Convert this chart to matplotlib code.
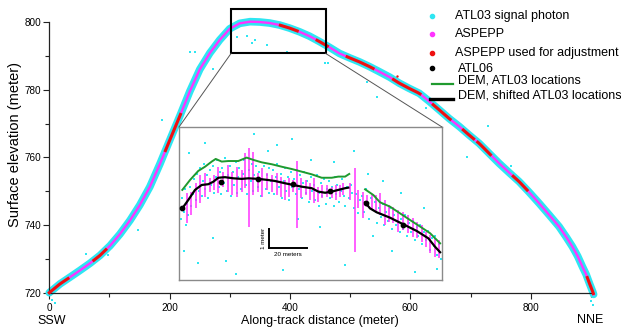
import numpy as np
import matplotlib
matplotlib.use('Agg')
import matplotlib.pyplot as plt
from matplotlib.lines import Line2D
from matplotlib.patches import Rectangle, ConnectionPatch

plt.rcParams['font.family'] = ['Liberation Sans', 'DejaVu Sans']

# ---- 主图：沿轨剖面 (m) ----
prof_x = [0, 17.8, 34.5, 51.0, 67.7, 84.1, 101.0, 117.3, 134.2, 150.4, 167.1, 183.7, 200.2,
          216.9, 233.5, 250.1, 266.7, 283.2, 299.8, 316.4, 333.8, 349.6, 366.0, 382.7, 399.3,
          415.9, 432.5, 449.1, 465.8, 482.3, 499.1, 515.5, 532.3, 548.6, 565.6, 581.8, 597.8,
          615.0, 631.1, 648.2, 664.3, 681.4, 697.6, 714.5, 730.8, 747.7, 764.1, 780.9, 797.4,
          814.1, 830.6, 847.3, 858.8, 869.3, 878.0, 885.9, 892.1, 897.5, 903.0, 904.5]
prof_y = [720.0, 722.6, 724.6, 726.6, 728.7, 731.0, 733.9, 737.3, 741.4, 745.9, 751.3, 758.0,
          765.1, 772.2, 779.5, 786.0, 790.8, 794.7, 798.0, 799.6, 800.1, 800.0, 799.7, 799.1,
          798.2, 797.1, 795.8, 794.2, 792.5, 790.7, 789.4, 788.2, 786.8, 785.3, 783.7, 781.9,
          780.4, 778.9, 776.6, 774.0, 771.5, 769.1, 766.6, 764.1, 761.2, 758.2, 755.5, 752.8,
          749.7, 746.4, 743.0, 739.5, 736.5, 733.6, 730.8, 727.7, 725.4, 722.8, 720.3, 719.5]

# 用于平差的 ASPEPP 区段 (x 范围)
red_ranges = [(0, 31), (74, 94), (193, 218), (384, 412), (445, 462), (495, 538), (572, 616),
              (638, 666), (688, 705), (712, 733), (771, 794), (894, 904)]

# 离群光子
out_x = [336.4, 341.8, 361, 394.2, 327.7, 311.4, 457.7, 462.8, 544, 527.3, 729.4, 693.4, 233.5,
         147.9, 242, 186.6, 272.3, 4, 9, 901, 904, 61.7, 97, 626, 767]
out_y = [793.7, 794.7, 793.2, 791.2, 795.9, 795.7, 788.0, 788.0, 777.9, 782.4, 769.3, 760.2,
         791.2, 738.5, 791.2, 771.0, 786.0, 717.8, 717.0, 717.5, 716.5, 731.5, 731.2, 774.5, 757.5]
red_out_x = [577.3]
red_out_y = [784.0]

# ---- 放大图 (局部坐标, m) ----
blk1_x = [1.75, 4.93, 8.49, 12.04, 15.54, 18.2, 20.85, 24.4, 28.8, 33.3, 36.8, 42.1, 47.4, 50.9,
          56.2, 60.6, 65.1, 70.4, 73.9, 77.5, 81.0, 84.5, 88.1, 89.8]
blk1_y = [3.77, 4.21, 4.74, 5.0, 5.04, 5.17, 5.38, 5.41, 5.35, 5.32, 5.35, 5.32, 5.26, 5.21,
          5.09, 5.0, 4.91, 4.83, 4.65, 4.59, 4.65, 4.74, 4.83, 4.86]
blk2_x = [98.7, 101.3, 104.9, 111.9, 119.0, 126.1, 132.3, 135.8, 138.5]
blk2_y = [4.09, 3.77, 3.56, 3.28, 2.93, 2.58, 2.19, 1.75, 1.46]
grn1_x = [1.75, 5.84, 10.24, 13.79, 17.35, 19.47, 22.65, 26.15, 31.46, 35.9, 39.4, 43.9, 49.2,
          54.5, 59.8, 65.1, 70.4, 75.7, 81.0, 84.5, 88.1, 90.3]
grn1_y = [4.74, 5.26, 5.74, 5.96, 6.23, 6.37, 6.23, 6.26, 6.26, 6.44, 6.32, 6.19, 6.09, 5.96,
          5.84, 5.70, 5.56, 5.38, 5.38, 5.44, 5.44, 5.58]
grn2_x = [98.7, 103.1, 106.6, 111.9, 117.2, 122.5, 127.9, 133.2, 138.5]
grn2_y = [4.77, 4.47, 4.09, 3.86, 3.51, 3.16, 2.81, 2.46, 1.93]
atl06_x = [1.75, 22.1, 41.8, 60.6, 80.1, 99.2, 119.0]
atl06_y = [3.77, 5.17, 5.30, 5.04, 4.68, 4.04, 2.89]

bar_x = [4.07, 6.37, 8.84, 11.14, 13.79, 16.45, 18.74, 20.51, 23.52, 26.17, 28.29, 30.59, 33.25,
         35.01, 37.14, 39.43, 41.73, 44.21, 46.51, 49.16, 51.81, 54.11, 56.23, 58.36, 60.65,
         62.42, 64.72, 67.2, 69.5, 71.8, 73.9, 76.0, 78.3, 81.0, 83.1, 85.4, 87.2, 90.7, 93.4,
         95.1, 97.4, 99.6, 102.2, 104.5, 106.6, 109.3, 111.6, 113.7, 116.4, 119.0, 121.7, 124.3,
         126.4, 128.7, 131.0, 133.2, 135.8, 138.1]
bar_top = [4.56, 4.65, 5.09, 5.53, 5.61, 5.35, 5.53, 5.96, 5.70, 6.05, 5.70, 5.96, 5.79, 6.67,
           6.93, 6.75, 5.61, 5.88, 5.61, 5.53, 5.61, 5.44, 5.26, 5.35, 5.26, 6.26, 5.35, 5.26,
           5.09, 5.35, 4.91, 5.0, 5.0, 4.91, 5.0, 5.0, 5.09, 5.09, 5.88, 4.74, 4.65, 4.47, 4.47,
           4.47, 4.56, 4.21, 3.95, 3.86, 3.68, 3.60, 3.42, 3.25, 3.07, 2.89, 2.54, 2.37, 2.19, 2.11]
bar_bot = [2.98, 3.42, 3.77, 4.04, 4.39, 4.65, 4.74, 4.56, 4.91, 4.65, 4.47, 4.39, 4.65, 4.82,
           2.81, 4.47, 4.65, 4.39, 4.74, 4.65, 4.47, 4.39, 4.21, 4.39, 4.65, 2.72, 4.30, 4.47,
           4.21, 4.04, 4.12, 4.30, 4.39, 4.30, 4.21, 4.39, 4.47, 4.21, 1.49, 3.77, 3.25, 3.86,
           3.68, 3.51, 3.42, 2.89, 3.07, 2.98, 2.54, 2.63, 2.46, 2.28, 2.19, 2.02, 1.75, 1.40,
           1.23, 1.14]

cyan_in_x = [1.0, 1.5, 2.5, 3.0, 3.5, 4.5, 5.0, 6.0, 6.5, 7.5, 8.0, 9.0, 9.5, 10.5, 11.0, 12.0,
             12.5, 13.5, 14.0, 15.0, 15.5, 16.5, 17.0, 18.0, 18.5, 19.5, 20.0, 21.0, 21.5, 22.5,
             23.0, 24.0, 24.5, 25.5, 26.0, 27.0, 27.5, 28.5, 29.0, 30.0, 30.5, 31.5, 32.0, 33.0,
             34.0, 34.5, 35.5, 36.0, 37.0, 38.0, 38.5, 39.5, 40.0, 41.0, 42.0, 42.5, 43.5, 44.0,
             45.0, 46.0, 46.5, 47.5, 48.0, 49.0, 50.0, 50.5, 51.5, 52.0, 53.0, 54.0, 54.5, 55.5,
             56.0, 57.0, 58.0, 58.5, 59.5, 60.0, 61.0, 62.0, 62.5, 63.5, 64.0, 65.0, 66.0, 66.5,
             67.5, 68.0, 69.0, 70.0, 70.5, 71.5, 72.0, 73.0, 74.0, 74.5, 75.5, 76.0, 77.0, 78.0,
             78.5, 79.5, 80.0, 81.0, 82.0, 82.5, 83.5, 84.0, 85.0, 86.0, 86.5, 87.5, 88.0, 89.0,
             90.0, 91.0, 92.0, 93.0, 94.0, 95.0, 96.0,
             97.0, 98.0, 99.0, 100.0, 101.0, 102.0, 103.0, 104.0, 105.0, 106.0, 107.0, 108.0,
             109.0, 110.0, 111.0, 112.0, 113.0, 114.0, 115.0, 116.0, 117.0, 118.0, 119.0, 120.0,
             121.0, 122.0, 123.0, 124.0, 125.0, 126.0, 127.0, 128.0, 129.0, 130.0, 131.0, 132.0,
             133.0, 134.0, 135.0, 136.0, 137.0, 138.0, 138.8,
             5.5, 2.5, 14, 18, 25, 40, 47, 52, 60, 63, 70, 75, 82, 88, 93, 100, 103, 108, 113,
             118, 125, 130, 137, 30, 55, 10]
cyan_in_y = [3.2, 4.3, 3.6, 4.8, 2.9, 4.0, 3.4, 4.9, 3.9, 4.5, 5.3, 4.2, 5.6, 4.7, 5.9, 4.4,
             5.2, 6.1, 4.8, 5.5, 4.3, 5.8, 5.0, 6.0, 4.6, 5.4, 6.3, 4.9, 5.7, 4.5,
             5.9, 5.1, 6.4, 4.7, 5.5, 6.0, 4.4, 5.7, 5.0, 6.2, 4.6, 5.4, 5.9, 4.8,
             5.6, 6.3, 5.0, 4.5, 5.8, 5.2, 6.1, 4.7, 5.5, 6.0, 4.9, 5.7, 4.4, 5.3,
             6.0, 4.8, 5.5, 5.9, 4.6, 5.2, 5.8, 4.5, 5.4, 6.1, 4.9, 5.6, 4.3, 5.2,
             5.9, 4.7, 5.4, 4.2, 5.7, 4.9, 5.3, 4.5, 5.8, 4.8, 5.5, 4.3, 5.1, 5.7,
             4.6, 5.2, 4.1, 5.4, 4.7, 5.0, 4.2, 5.5, 4.6, 3.9, 5.1, 4.4, 5.3, 4.0,
             4.8, 5.2, 4.3, 4.9, 3.9, 5.4, 4.5, 5.0, 4.1, 4.7, 5.3, 4.4, 3.9, 4.9,
             4.3, 5.0, 4.6, 3.8, 4.5, 3.5, 4.2,
             4.4, 3.6, 4.8, 3.9, 3.2, 4.3, 3.7, 4.1, 3.0, 3.8, 3.3, 4.0,
             2.9, 3.6, 3.1, 3.8, 2.7, 3.4, 2.9, 3.6, 2.5, 3.2, 2.7, 3.4,
             2.3, 3.0, 2.5, 3.1, 2.1, 2.8, 2.3, 2.9, 1.9, 2.5, 2.1, 2.6,
             1.6, 2.2, 1.8, 2.3, 1.3, 1.9, 1.1,
             6.7, 1.5, 7.2, 2.2, 1.0, 7.7, 6.8, 7.1, 7.4, 3.2, 6.3, 2.8, 6.2, 0.8, 6.8, 5.6,
             2.3, 5.2, 1.5, 4.6, 0.4, 3.8, 0.6, 0.3, 0.5, 0.9]

x_ticks = [0, 200, 400, 600, 800]
y_ticks = [720, 740, 760, 780, 800]

CYAN = '#2ee6f2'
MAGENTA = '#ff33ff'
RED = '#ee1111'
GREEN = '#1f9a2e'

W, H = 621, 329
fig = plt.figure(figsize=(W / 100, H / 100), dpi=100)
ax = fig.add_axes([49.3 / W, 1 - 292.7 / H, 544 / W, 270.7 / H])
ax.set_xlim(0, 904)
ax.set_ylim(720, 800)

# 主剖面
ax.plot(prof_x, prof_y, color=CYAN, lw=5.5, solid_capstyle='round', clip_on=False, zorder=2)
ax.scatter(out_x, out_y, s=3, marker='s', color=CYAN, linewidths=0, clip_on=False, zorder=2)
ax.plot(prof_x, prof_y, color=MAGENTA, lw=1.7, clip_on=False, zorder=3)
for x0, x1 in red_ranges:
    xs = np.linspace(x0, x1, 12)
    ax.plot(xs, np.interp(xs, prof_x, prof_y), color=RED, lw=2.2, clip_on=False, zorder=4)
ax.scatter(red_out_x, red_out_y, s=3, color=RED, linewidths=0, zorder=4)

for s in ['top', 'right']:
    ax.spines[s].set_visible(False)
for s in ['left', 'bottom']:
    ax.spines[s].set_linewidth(0.9)
    ax.spines[s].set_color('#222222')
ax.set_xticks(x_ticks)
ax.set_xticks(np.arange(100, 901, 200), minor=True)
ax.set_yticks(y_ticks)
ax.set_yticks(np.arange(730, 800, 20), minor=True)
ax.tick_params(which='major', length=4.5, width=0.8, labelsize=7.2, color='#222222')
ax.tick_params(which='minor', length=3, width=0.8, color='#222222')
ax.tick_params(axis='x', which='major', pad=3)
ax.tick_params(axis='y', which='major', pad=1.5)

fig.text(15 / W, 1 - 144 / H, 'Surface elevation (meter)', rotation=90, ha='center',
         va='center', fontsize=10.5)
fig.text(320 / W, 1 - 320.7 / H, 'Along-track distance (meter)', ha='center', va='center',
         fontsize=9)
fig.text(52 / W, 1 - 320.7 / H, 'SSW', ha='center', va='center', fontsize=9)
fig.text(590 / W, 1 - 320 / H, 'NNE', ha='center', va='center', fontsize=9)

# 放大框
ax.add_patch(Rectangle((302, 790.7), 157.3, 13.0, fill=False, ec='black', lw=1.5,
                       clip_on=False, zorder=5))

# 放大图
axi = fig.add_axes([179 / W, 1 - 280 / H, 263 / W, 153 / H])
axi.set_xlim(0, 139.5)
axi.set_ylim(0, 8.05)
axi.set_xticks([])
axi.set_yticks([])
for s in axi.spines.values():
    s.set_color('#8a8a8a')
    s.set_linewidth(1.0)
axi.scatter(cyan_in_x, cyan_in_y, s=2.2, marker='s', color=CYAN, linewidths=0, zorder=1)
axi.vlines(bar_x, bar_bot, bar_top, color=MAGENTA, lw=1.1, zorder=2)
axi.plot(grn1_x, grn1_y, color=GREEN, lw=1.4, zorder=3)
axi.plot(grn2_x, grn2_y, color=GREEN, lw=1.4, zorder=3)
axi.plot(blk1_x, blk1_y, color='black', lw=1.6, zorder=4)
axi.plot(blk2_x, blk2_y, color='black', lw=1.6, zorder=4)
axi.scatter(atl06_x, atl06_y, s=10, color='black', zorder=5)

# 比例尺
axi.plot([47.9, 67.9], [1.67, 1.67], color='black', lw=1.4)
axi.plot([47.9, 47.9], [1.67, 2.67], color='black', lw=1.4)
axi.text(45.0, 2.2, '1 meter', rotation=90, ha='center', va='center', fontsize=4.5)
axi.text(57.9, 1.45, '20 meters', ha='center', va='top', fontsize=4.5)

for xa, xb in [((302, 790.7), (0, 1)), ((459.3, 790.7), (1, 1))]:
    con = ConnectionPatch(xyA=xa, coordsA=ax.transData, xyB=xb, coordsB=axi.transAxes,
                          color='#555555', lw=0.7)
    fig.add_artist(con)

# 图例
def fy(py):
    return 1 - py / H

leg_dots = [(CYAN, 16, 'ATL03 signal photon', 455, 16),
            (MAGENTA, 34, 'ASPEPP', 455, 34),
            (RED, 52.7, 'ASPEPP used for adjustment', 455, 52.7),
            ('black', 68.3, 'ATL06', 458, 69.3)]
for c, py, lab, tx, ty in leg_dots:
    fig.add_artist(Line2D([432 / W], [fy(py)], marker='o', ms=3, color=c, ls='none',
                          transform=fig.transFigure))
    fig.text(tx / W, fy(ty), lab, ha='left', va='center', fontsize=9)
fig.add_artist(Line2D([431.7 / W, 453.3 / W], [fy(84.3), fy(84.3)], color=GREEN, lw=1.6,
                      transform=fig.transFigure))
fig.text(458 / W, fy(80.7), 'DEM, ATL03 locations', ha='left', va='center', fontsize=9)
fig.add_artist(Line2D([430 / W, 453.3 / W], [fy(99), fy(99)], color='black', lw=2.4,
                      transform=fig.transFigure))
fig.text(458 / W, fy(96), 'DEM, shifted ATL03 locations', ha='left', va='center', fontsize=9)

fig.savefig('out.png', dpi=100)
